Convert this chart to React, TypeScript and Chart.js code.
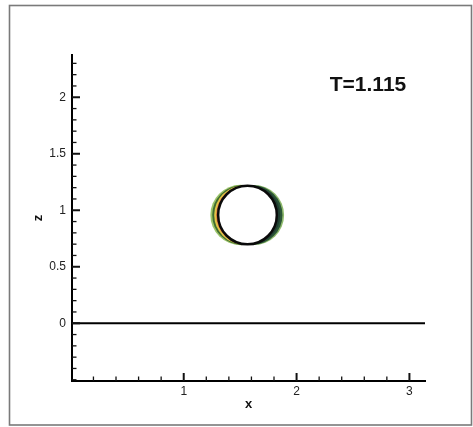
import React, { useEffect, useRef } from "react";
import { Chart, registerables } from "chart.js";

Chart.register(...registerables);

// ---- data ----
const X_RANGE = [0.01, 3.138];
const Z_RANGE = [-0.511, 2.374];
const X_TICK_LABELS = [1, 2, 3];
const Z_TICK_LABELS = [0, 0.5, 1, 1.5, 2];
const X_MINOR_STEP = 0.2;
const Z_MINOR_STEP = 0.1;

const GROUND_X = [0.01, 3.138];
const GROUND_Z = [0, 0];

const BUBBLE_CENTER = [1.565, 0.958];
const BUBBLE_RADIUS = 0.26;

// crescent layers: horizontal offset of lobe centre (negative = left lobe)
const LAYER_OFFSETS = [-0.062, 0.058, -0.048, 0.046, -0.033, 0.028, -0.017];
const LAYER_COLORS = ["#9cc46a", "#8fba6c", "#3f6d30", "#2c5638", "#e2c447", "#1f3c30", "#d8663c"];

const TIME_LABEL = "T=1.115";

const FONT = "'Liberation Sans', Arial, Helvetica, sans-serif";

function near(v: number, arr: number[]) {
  return arr.some((a) => Math.abs(a - v) < 1e-6);
}

function pxRadius(chart: any, r: number) {
  const s = chart.scales.x;
  return Math.abs(s.getPixelForValue(r) - s.getPixelForValue(0));
}

const innerTicks = {
  id: "innerTicks",
  afterDatasetsDraw(chart: any) {
    const { ctx, chartArea } = chart;
    const xs = chart.scales.x;
    const ys = chart.scales.y;
    ctx.save();
    ctx.strokeStyle = "#111";
    ctx.lineWidth = 1.5;
    xs.ticks.forEach((t: any) => {
      const major = near(t.value, X_TICK_LABELS);
      const len = major ? 8 : 4.5;
      const px = xs.getPixelForValue(t.value);
      ctx.lineWidth = major ? 2 : 1.3;
      ctx.beginPath();
      ctx.moveTo(px, chartArea.bottom);
      ctx.lineTo(px, chartArea.bottom - len);
      ctx.stroke();
    });
    ys.ticks.forEach((t: any) => {
      const major = near(t.value, Z_TICK_LABELS);
      const len = major ? 8 : 4.5;
      const py = ys.getPixelForValue(t.value);
      ctx.lineWidth = major ? 2 : 1.3;
      ctx.beginPath();
      ctx.moveTo(chartArea.left, py);
      ctx.lineTo(chartArea.left + len, py);
      ctx.stroke();
    });
    ctx.restore();
  },
};

const decorations = {
  id: "decorations",
  beforeDraw(chart: any) {
    const { ctx, width, height } = chart;
    ctx.save();
    ctx.fillStyle = "#ffffff";
    ctx.fillRect(0, 0, width, height);
    ctx.strokeStyle = "#7a7a7a";
    ctx.lineWidth = 1.6;
    ctx.strokeRect(9.5, 5.5, 462, 419.5);
    ctx.restore();
  },
  afterDraw(chart: any) {
    const { ctx } = chart;
    ctx.save();
    ctx.fillStyle = "#111";
    ctx.font = `bold 21px ${FONT}`;
    ctx.textAlign = "center";
    ctx.textBaseline = "middle";
    ctx.fillText(TIME_LABEL, 368, 85);
    ctx.restore();
  },
};

export default function App() {
  const ref = useRef<HTMLCanvasElement | null>(null);

  useEffect(() => {
    if (!ref.current) return;
    const R = BUBBLE_RADIUS;
    const layerSets = LAYER_OFFSETS.map((d, i) => {
      const lobeR = Math.sqrt(d * d + R * R);
      return {
        type: "scatter" as const,
        data: [{ x: BUBBLE_CENTER[0] + d, y: BUBBLE_CENTER[1] }],
        pointRadius: (c: any) => pxRadius(c.chart, lobeR),
        pointHoverRadius: (c: any) => pxRadius(c.chart, lobeR),
        backgroundColor: LAYER_COLORS[i],
        borderColor: LAYER_COLORS[i],
        borderWidth: 0,
        order: 10 + i * 0 + (LAYER_OFFSETS.length - i),
      };
    });
    const chart = new Chart(ref.current, {
      type: "scatter",
      data: {
        datasets: [
          {
            type: "scatter",
            data: [{ x: BUBBLE_CENTER[0], y: BUBBLE_CENTER[1] }],
            pointRadius: (c: any) => pxRadius(c.chart, R),
            pointHoverRadius: (c: any) => pxRadius(c.chart, R),
            backgroundColor: "#ffffff",
            borderColor: "#0a0a0a",
            borderWidth: 2.5,
            order: 1,
          },
          ...layerSets,
          {
            type: "line",
            data: GROUND_X.map((x, i) => ({ x, y: GROUND_Z[i] })),
            borderColor: "#000",
            borderWidth: 2.2,
            pointRadius: 0,
            showLine: true,
            order: 2,
          },
        ] as any,
      },
      options: {
        animation: false,
        responsive: false,
        events: [],
        layout: { padding: { left: 0, top: 55, right: 48, bottom: 0 } },
        plugins: { legend: { display: false }, tooltip: { enabled: false } },
        scales: {
          x: {
            type: "linear",
            min: X_RANGE[0],
            max: X_RANGE[1],
            afterFit: (s: any) => {
              s.height = 46;
            },
            grid: { display: false, drawTicks: false },
            border: { display: true, color: "#000", width: 2 },
            ticks: {
              stepSize: X_MINOR_STEP,
              autoSkip: false,
              includeBounds: false,
              maxRotation: 0,
              padding: 3,
              color: "#222",
              font: { family: FONT, size: 12 },
              callback: (v: any) => (near(Number(v), X_TICK_LABELS) ? String(Math.round(Number(v) * 10) / 10) : ""),
            },
            title: {
              display: true,
              text: "x",
              color: "#111",
              font: { family: FONT, size: 13, weight: "bold", lineHeight: 1.2 },
              padding: { top: 0, bottom: 15 },
            },
          },
          y: {
            type: "linear",
            min: Z_RANGE[0],
            max: Z_RANGE[1],
            afterFit: (s: any) => {
              s.width = 72;
            },
            grid: { display: false, drawTicks: false },
            border: { display: true, color: "#000", width: 2 },
            ticks: {
              stepSize: Z_MINOR_STEP,
              autoSkip: false,
              includeBounds: false,
              padding: 6,
              color: "#222",
              font: { family: FONT, size: 12 },
              callback: (v: any) => (near(Number(v), Z_TICK_LABELS) ? String(Math.round(Number(v) * 10) / 10) : ""),
            },
            title: {
              display: true,
              text: "z",
              color: "#111",
              font: { family: FONT, size: 13, weight: "bold", lineHeight: 1.2 },
              padding: { top: 31, bottom: 0 },
            },
          },
        },
      },
      plugins: [decorations, innerTicks],
    });
    return () => chart.destroy();
  }, []);

  return (
    <div style={{ position: "absolute", left: 0, top: 0, width: 473, height: 427 }}>
      <canvas ref={ref} width={473} height={427} style={{ display: "block" }} />
    </div>
  );
}
